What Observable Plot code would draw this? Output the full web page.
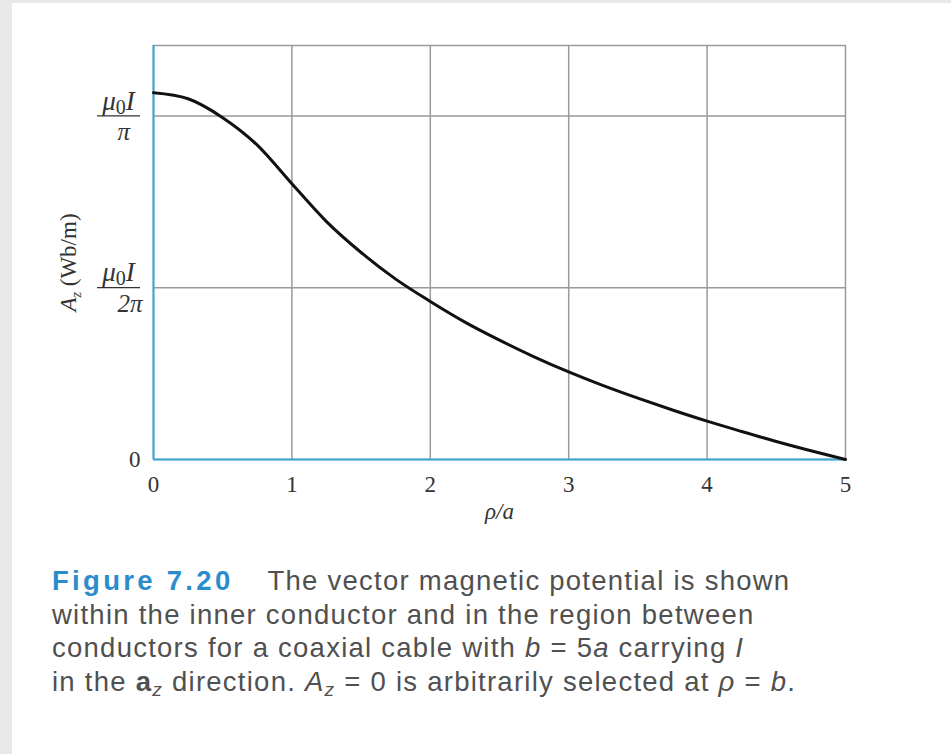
<!DOCTYPE html>
<html><head><meta charset="utf-8">
<script src="https://cdn.jsdelivr.net/npm/d3@7"></script>
<script src="https://cdn.jsdelivr.net/npm/@observablehq/plot@0.6"></script>
<style>
html,body{margin:0;padding:0;background:#e8e8e8;width:951px;height:754px;overflow:hidden;}
#panel{position:absolute;left:12px;top:3px;width:939px;height:751px;background:#fff;}
#chart svg{display:block;}
#caption{font-family:"Liberation Sans",Arial,sans-serif;font-size:27.5px;letter-spacing:1.25px;line-height:33.5px;color:#505050;padding-left:40px;padding-top:24px;white-space:nowrap;}
#caption .fig{color:#2b8ccb;font-weight:bold;letter-spacing:3.3px;margin-right:34px;}
#caption sub{font-size:70%;vertical-align:baseline;position:relative;top:0.3em;}
</style></head>
<body><div id="panel"><div id="chart"></div><div id="caption"><span class="fig">Figure 7.20</span>The vector magnetic potential is shown<br>within the inner conductor and in the region between<br>conductors for a coaxial cable with <i>b</i> = 5<i>a</i> carrying <i>I</i><br>in the <b>a</b><sub><i>z</i></sub> direction. <i>A<sub>z</sub></i> = 0 is arbitrarily selected at <i>ρ</i> = <i>b</i>.</div></div>
<script>
// ρ/a values and A_z in units of μ0I/(2π)
const rho = [0, 0.25, 0.5, 0.75, 1.0, 1.25, 1.5, 1.75, 2.0, 2.25, 2.5, 2.75, 3.0, 3.25, 3.5, 3.75, 4.0, 4.25, 4.5, 4.75, 5.0];
const Az  = [2.135, 2.10, 1.99, 1.83, 1.605, 1.385, 1.205, 1.05, 0.92, 0.80, 0.695, 0.598, 0.51, 0.43, 0.357, 0.288, 0.223, 0.163, 0.105, 0.051, 0];
const xTicks = [0, 1, 2, 3, 4, 5];
const yGrid = [1, 2];
const fracValues = [2, 1];
const fracNum = ["μ0I", "μ0I"];
const fracDen = ["π", "2π"];
const xLabel = "ρ/a";
const yLabel = "Az (Wb/m)";

const data = rho.map((r, i) => ({rho: r, A: Az[i]}));
const fracs = fracValues.map((v, i) => ({v, num: fracNum[i], den: fracDen[i]}));

const serif = "Liberation Serif, Times New Roman, serif";
const plot = Plot.plot({
  width: 939,
  height: 537,
  marginLeft: 141,
  marginRight: 106,
  marginTop: 42,
  marginBottom: 81,
  style: {fontFamily: serif, fontSize: "23px", background: "white", color: "#333"},
  x: {domain: [0, 5]},
  y: {domain: [0, 2.41]},
  marks: [
    Plot.gridX(xTicks.slice(1, 5), {stroke: "#9a9a9a", strokeOpacity: 1, strokeWidth: 1.5}),
    Plot.gridY(yGrid, {stroke: "#9a9a9a", strokeOpacity: 1, strokeWidth: 1.5}),
    Plot.frame({stroke: "#9a9a9a", strokeWidth: 1.5}),
    Plot.ruleX([0], {stroke: "#3aa6d6", strokeWidth: 2}),
    Plot.ruleY([0], {stroke: "#3aa6d6", strokeWidth: 2}),
    Plot.axisX(xTicks, {tickSize: 0, tickPadding: 16, label: null, fontSize: 23, fill: "#333", tickFormat: d => String(d)}),
    Plot.axisY([0], {tickSize: 0, tickPadding: 13, label: null, fontSize: 23, fill: "#333", tickFormat: d => String(d)}),
    Plot.line(data, {x: "rho", y: "A", curve: "monotone-x", stroke: "#111", strokeWidth: 3}),
    Plot.text(fracs, {frameAnchor: "left", y: "v", text: "num", dx: -35, dy: -15, fontSize: 27, fill: "#333"}),
    Plot.text(fracs, {frameAnchor: "left", y: "v", text: "den", dx: -36, dy: 16, fontSize: 25, fill: "#333", fontStyle: "italic"}),
    Plot.ruleY(fracs, {y: "v", x1: 0, x2: 0, insetLeft: -56, insetRight: 13, stroke: "#333", strokeWidth: 1.2}),
    Plot.text([xLabel], {frameAnchor: "bottom", text: d => d, dy: 59, fontSize: 23, fontStyle: "italic", fill: "#333"}),
    Plot.text([yLabel], {frameAnchor: "left", text: d => d, dx: -85, dy: 10, rotate: -90, fontSize: 23, fill: "#333"})
  ]
});
document.getElementById("chart").appendChild(plot);

// rich-format special labels (italics, subscripts) while keeping real text
function recenter(node) {
  const s = d3.select(node);
  s.attr("text-anchor", "start");
  const w = node.getComputedTextLength();
  s.attr("x", -w / 2);
}
d3.select(plot).selectAll("text").each(function() {
  const t = this.textContent;
  const s = d3.select(this);
  if (t === "μ0I") {
    s.text(null);
    s.append("tspan").attr("font-style", "italic").text("μ");
    s.append("tspan").attr("font-size", "20").attr("dy", 4).text("0");
    s.append("tspan").attr("font-style", "italic").attr("dy", -4).text("I");
    recenter(this);
  } else if (t === "Az (Wb/m)") {
    s.text(null);
    s.append("tspan").attr("font-style", "italic").text("A");
    s.append("tspan").attr("font-style", "italic").attr("font-size", "14").attr("dy", 5).text("z");
    s.append("tspan").attr("dy", -5).text(" (Wb/m)");
    recenter(this);
  }
});
</script>
</body></html>
